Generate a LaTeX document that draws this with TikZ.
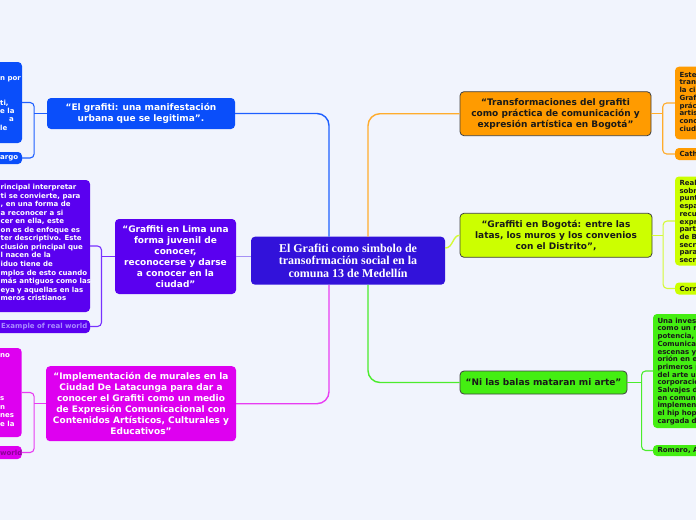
\documentclass[tikz,border=0pt]{standalone}
\usepackage{fontspec}
\setmainfont{DejaVu Sans}
\newfontfamily\serifb{Liberation Serif}
\usetikzlibrary{calc}
\definecolor{bg}{RGB}{241,244,253}
\definecolor{ccent}{RGB}{50,18,218}
\definecolor{cblue}{RGB}{10,78,250}
\definecolor{cviol}{RGB}{90,0,240}
\definecolor{cmag}{RGB}{222,0,240}
\definecolor{corange}{RGB}{255,155,0}
\definecolor{cyel}{RGB}{204,255,0}
\definecolor{cgreen}{RGB}{68,238,18}
\definecolor{lblue}{RGB}{30,95,255}
\definecolor{llav}{RGB}{165,145,245}
\definecolor{lviol}{RGB}{120,50,255}
\definecolor{lmag}{RGB}{232,60,242}
\definecolor{lorange}{RGB}{255,172,45}
\definecolor{lyel}{RGB}{212,250,55}
\definecolor{lgreen}{RGB}{75,236,45}
\definecolor{tlav}{RGB}{170,140,255}
\definecolor{tpurp}{RGB}{140,0,150}
\definecolor{tdark}{RGB}{25,25,25}
\tikzset{
  mainnode/.style={rounded corners=4pt, inner sep=2pt, align=center,
    font=\bfseries\fontsize{9}{11}\selectfont, text=white},
  rmain/.style={mainnode, draw=black!75, line width=0.8pt, text=tdark},
  cbox/.style={rounded corners=4pt, inner sep=0pt},
  ltext/.style={inner sep=0pt, anchor=north west, align=left, text=white,
    font=\bfseries\fontsize{7}{8.55}\selectfont},
  rtext/.style={inner sep=0pt, anchor=north west, align=left, text=tdark,
    font=\bfseries\fontsize{7}{7.7}\selectfont},
  stext/.style={inner sep=0pt, anchor=west, font=\bfseries\fontsize{7}{8}\selectfont},
  conn/.style={line width=1.4pt, rounded corners=12pt},
  brk/.style={line width=1.1pt, rounded corners=4pt}
}
\begin{document}
\begin{tikzpicture}[x=1pt,y=-1pt]
\fill[bg] (0,0) rectangle (696,520);
\useasboundingbox (0,0) rectangle (696,520);
\clip (0,0) rectangle (696,520);

% central
\node[mainnode, fill=ccent, font=\serifb\bfseries\fontsize{12}{12.3}\selectfont,
  minimum width=194, minimum height=48] (c) at (348,260.7)
  {El Grafiti como simbolo de\\transofrmación social en la\\comuna 13 de Medellín};

% main nodes
\node[mainnode, fill=cblue, minimum width=188, minimum height=31] (n1) at (141,113.5)
  {“El grafiti: una manifestación\\urbana que se legitima”.};
\node[mainnode, fill=cviol, minimum width=121, minimum height=75] (n2) at (175.5,256.5)
  {“Graffiti en Lima una\\forma juvenil de\\conocer,\\reconocerse y darse\\a conocer en la\\ciudad”};
\node[mainnode, fill=cmag, minimum width=190, minimum height=75] (n3) at (141,403.7)
  {“Implementación de murales en la\\Ciudad De Latacunga para dar a\\conocer el Grafiti como un medio\\de Expresión Comunicacional con\\Contenidos Artísticos, Culturales y\\Educativos”};
\node[rmain, fill=corange, minimum width=191, minimum height=44] (r1) at (555.5,113.7)
  {“Transformaciones del grafiti\\como práctica de comunicación y\\expresión artística en Bogotá”};
\node[rmain, fill=cyel, minimum width=192, minimum height=44] (r2) at (556,235.3)
  {“Graffiti en Bogotá: entre las\\latas, los muros y los convenios\\con el Distrito”,};
\node[rmain, fill=cgreen, minimum width=167, minimum height=23] (r3) at (543.5,382.5)
  {“Ni las balas mataran mi arte”};

% child boxes left
\node[cbox, fill=cblue, minimum width=32, minimum height=81] (b1) at (6,102.5) {};
\node[cbox, fill=cblue, minimum width=32, minimum height=12] (b1s) at (6,158) {};
\node[cbox, fill=cviol, minimum width=100, minimum height=132] (b2) at (40,246) {};
\node[cbox, fill=cviol, minimum width=100, minimum height=13] (b2s) at (40,326.5) {};
\node[cbox, fill=cmag, minimum width=31.7, minimum height=89] (b3) at (5.85,392.5) {};
\node[cbox, fill=cmag, minimum width=31.7, minimum height=13] (b3s) at (5.85,452.5) {};
% child boxes right
\node[cbox, fill=corange, minimum width=35, minimum height=72.6] (r1b) at (692.5,103) {};
\node[cbox, fill=corange, minimum width=35, minimum height=12] (r1s) at (692.5,154) {};
\node[cbox, fill=cyel, minimum width=35, minimum height=89] (r2b) at (692.5,221) {};
\node[cbox, fill=cyel, minimum width=35, minimum height=12] (r2s) at (692.5,288.5) {};
\node[cbox, fill=cgreen, minimum width=57, minimum height=114] (r3b) at (681.5,371) {};
\node[cbox, fill=cgreen, minimum width=57, minimum height=11] (r3s) at (681.5,450.5) {};

% child texts left
\node[ltext, font=\bfseries\fontsize{7}{8.3}\selectfont] (b1t) at (0,74.4)
  {\strut n por\\~\\~\\ti,\\e la\\\hspace*{9pt}a\\le};
\node[stext, text=white] (b1st) at (0,158) {argo};
\node[ltext] (b2t) at (0.5,183.4)
  {\strut rincipal interpretar\\ti se convierte, para\\, en una forma de\\a reconocer a si\\cer en ella, este\\on es de enfoque es\\ter descriptivo. Este\\clusión principal que\\l nacen de la\\iduo tiene de\\mplos de esto cuando\\más antiguos como las\\eya y aquellas en las\\meros cristianos};
\node[stext, text=tlav] (b2st) at (1,326.5) {Example of real world};
\node[ltext] (b3t) at (0,351.7)
  {\strut no\\~\\~\\~\\~\\s\\n\\nes\\e la};
\node[stext, text=tpurp] (b3st) at (0,452.5) {world};
% child texts right
\node[rtext] (r1t) at (679.3,71.7)
  {\strut Este\\trans\\la ciu\\Graf\\prác\\artis\\conc\\ciud};
\node[stext, text=tdark] (r1st) at (679.3,154) {Cath};
\node[rtext] (r2t) at (679.3,180)
  {\strut Real\\sobr\\punt\\espa\\recu\\expr\\part\\de B\\secr\\para\\secr};
\node[stext, text=tdark] (r2st) at (679.3,288.5) {Corr};
\node[rtext] (r3t) at (657.3,317.7)
  {\strut Una inves\\como un r\\potencia,\\Comunicac\\escenas y\\orión en e\\primeros p\\del arte u\\corporacio\\Salvajes d\\en comun\\implemen\\el hip hop\\cargada d};
\node[stext, text=tdark] (r3st) at (657.3,450.5) {Romero, A};

% main connectors
\draw[conn, lblue] ([xshift=-19]c.north) |- (n1.east);
\draw[conn, lorange] ([xshift=20]c.north) |- (r1.west);
\draw[conn, lmag] ([xshift=-19]c.south) |- (n3.east);
\draw[conn, lgreen] ([xshift=20]c.south) |- (r3.west);
\draw[conn, llav] (n2.east -| c.west) -- (n2.east);
\draw[line width=1.4pt, lyel] ($(c.east)+(0,-12.7)$) .. controls ($(c.east)+(8,-12.7)$) and ($(r2.west)+(-7,0)$) .. (r2.west);

% brackets
\draw[brk, lblue] (b1.east) -| ($(n1.west)+(-12.7,0)$) |- (b1s.east);
\draw[brk, lblue] (n1.west) -- ++(-12.7,0);
\draw[brk, lviol] (b2.east) -| ($(n2.west)+(-13.3,0)$) |- (b2s.east);
\draw[brk, lviol] (n2.west) -- ++(-13.3,0);
\draw[brk, lmag] (b3.east) -| ($(n3.west)+(-11.7,0)$) |- (b3s.east);
\draw[brk, lmag] (n3.west) -- ++(-11.7,0);
\draw[brk, lorange] (r1b.west) -| ($(r1.east)+(11.3,0)$) |- (r1s.west);
\draw[brk, lorange] (r1.east) -- ++(11.3,0);
\draw[brk, lyel] (r2b.west) -| ($(r2.east)+(10.7,0)$) |- (r2s.west);
\draw[brk, lyel] (r2.east) -- ++(10.7,0);
\draw[brk, lgreen] (r3b.west) -| ($(r3.east)+(14.2,0)$) |- (r3s.west);
\draw[brk, lgreen] (r3.east) -- ++(14.2,0);
\end{tikzpicture}
\end{document}
